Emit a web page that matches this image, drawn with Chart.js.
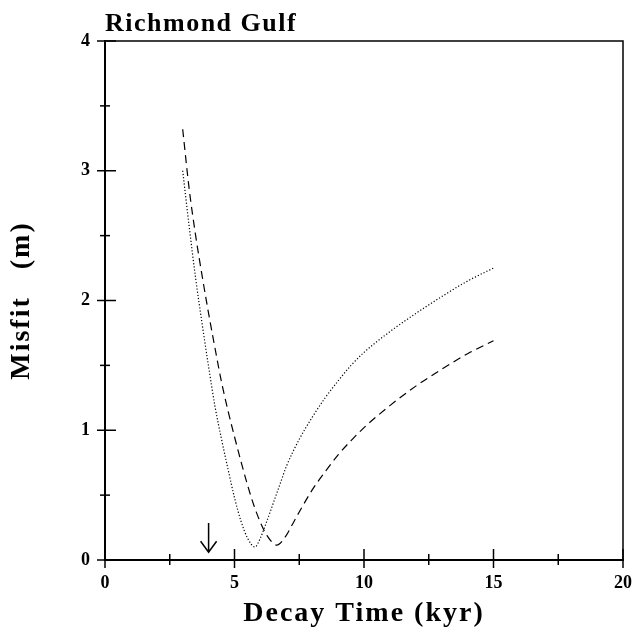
<!DOCTYPE html>
<html lang="en">
  <head>
    <meta charset="UTF-8" />
    <title>Richmond Gulf</title>
    <style>
      body { margin: 0; background: #fff; }
      canvas { display: block; }
    </style>
  </head>
  <body>
    <canvas id="misfitChart" width="632" height="639"></canvas>
    <script src="https://cdn.jsdelivr.net/npm/chart.js"></script>
    <script>
      const chartTitle = "Richmond Gulf";
      const xTitle = "Decay Time (kyr)";
      const yTitle = "Misfit   (m)";

      // dotted curve
      const dottedX = [3.0, 3.25, 3.5, 3.75, 4.0, 4.25, 4.5, 4.75, 5.0, 5.25, 5.5, 5.79, 6.0, 6.25, 6.5, 6.75, 7.0, 7.5, 8.0, 8.5, 9.0, 9.5, 10.0, 11.0, 12.0, 13.0, 14.0, 15.0];
      const dottedY = [3.0, 2.57, 2.17, 1.82, 1.49, 1.18, 0.93, 0.7, 0.48, 0.3, 0.17, 0.1, 0.17, 0.3, 0.44, 0.58, 0.72, 0.93, 1.1, 1.25, 1.38, 1.5, 1.6, 1.76, 1.9, 2.03, 2.15, 2.25];

      // dashed curve
      const dashedX = [3.0, 3.25, 3.5, 3.75, 4.0, 4.25, 4.5, 4.75, 5.0, 5.25, 5.5, 5.75, 6.0, 6.25, 6.63, 7.0, 7.25, 7.5, 8.0, 8.5, 9.0, 9.5, 10.0, 11.0, 12.0, 13.0, 14.0, 15.0];
      const dashedY = [3.32, 2.86, 2.5, 2.19, 1.9, 1.63, 1.37, 1.15, 0.95, 0.76, 0.58, 0.42, 0.29, 0.19, 0.115, 0.19, 0.28, 0.37, 0.54, 0.68, 0.81, 0.92, 1.02, 1.19, 1.34, 1.47, 1.59, 1.69];

      // arrow marking the preferred decay time
      const arrowX = 4;
      const arrowFrom = 0.285;
      const arrowTo = 0.06;

      const toPoints = (xs, ys) => xs.map((x, i) => ({ x: x, y: ys[i] }));
      const serif = "'Liberation Serif', 'Times New Roman', serif";

      // axis titles in the reference are set a little wider than Liberation Serif
      const spacedTitles = {
        id: "spacedTitles",
        afterLayout(chart) {
          [chart.scales.x, chart.scales.y].forEach((s) => {
            if (s._spaced) return;
            const orig = s.drawTitle.bind(s);
            s.drawTitle = function (area) {
              this.ctx.save();
              this.ctx.letterSpacing = "2px";
              orig(area);
              this.ctx.restore();
            };
            s._spaced = true;
          });
        },
      };

      // ticks that cross the axis line, plus the top/right frame and the arrow
      const framePlugin = {
        id: "frame",
        afterDraw(chart) {
          const ctx = chart.ctx;
          const a = chart.chartArea;
          const xs = chart.scales.x;
          const ys = chart.scales.y;
          ctx.save();
          ctx.strokeStyle = "#000";
          ctx.lineWidth = 1.5;
          ctx.beginPath();
          ctx.moveTo(a.left, a.top);
          ctx.lineTo(a.right, a.top);
          ctx.lineTo(a.right, a.bottom);
          ctx.stroke();

          ys.ticks.forEach((t) => {
            const py = ys.getPixelForValue(t.value);
            const major = Number.isInteger(t.value);
            ctx.beginPath();
            ctx.moveTo(a.left - (major ? 8 : 5), py);
            ctx.lineTo(a.left + (major ? 11 : 5), py);
            ctx.stroke();
          });
          xs.ticks.forEach((t) => {
            const px = xs.getPixelForValue(t.value);
            const major = t.value % 5 === 0;
            ctx.beginPath();
            ctx.moveTo(px, a.bottom + (major ? 8 : 5));
            ctx.lineTo(px, a.bottom - (major ? 11 : 6));
            ctx.stroke();
          });

          // arrow
          const ax = xs.getPixelForValue(arrowX);
          const y0 = ys.getPixelForValue(arrowFrom);
          const y1 = ys.getPixelForValue(arrowTo);
          ctx.beginPath();
          ctx.moveTo(ax, y0);
          ctx.lineTo(ax, y1);
          ctx.moveTo(ax - 8, y1 - 11);
          ctx.lineTo(ax, y1);
          ctx.lineTo(ax + 8, y1 - 11);
          ctx.stroke();

          // title, left aligned with the plot
          ctx.fillStyle = "#000";
          ctx.letterSpacing = "1.5px";
          ctx.font = "bold 26px " + serif;
          ctx.textBaseline = "alphabetic";
          ctx.textAlign = "left";
          ctx.fillText(chartTitle, a.left, a.top - 10);
          ctx.restore();
        },
      };

      const ctx = document.getElementById("misfitChart").getContext("2d");
      new Chart(ctx, {
        type: "scatter",
        data: {
          datasets: [
            {
              label: "dotted",
              data: toPoints(dottedX, dottedY),
              showLine: true,
              borderColor: "#000",
              borderWidth: 1.2,
              borderDash: [1.2, 2],
              pointRadius: 0,
              cubicInterpolationMode: "monotone",
            },
            {
              label: "dashed",
              data: toPoints(dashedX, dashedY),
              showLine: true,
              borderColor: "#000",
              borderWidth: 1.2,
              borderDash: [8, 5],
              pointRadius: 0,
              cubicInterpolationMode: "monotone",
            },
          ],
        },
        options: {
          responsive: false,
          animation: false,
          layout: { padding: { top: 41, right: 9, left: 0, bottom: 0 } },
          plugins: {
            legend: { display: false },
            tooltip: { enabled: false },
          },
          scales: {
            x: {
              type: "linear",
              min: 0,
              max: 20,
              border: { display: true, color: "#000", width: 2 },
              grid: { display: true, drawOnChartArea: false, drawTicks: false },
              ticks: {
                stepSize: 2.5,
                autoSkip: false,
                maxRotation: 0,
                padding: 13,
                color: "#000",
                font: { family: serif, size: 18, weight: "bold" },
                callback: (v) => (v % 5 === 0 ? String(v) : ""),
              },
              title: {
                display: true,
                text: xTitle,
                color: "#000",
                font: { family: serif, size: 28, weight: "bold" },
                padding: { top: 0, bottom: 8 },
              },
              afterFit: (s) => {
                s.height = 79;
                s.paddingLeft = 0;
                s.paddingRight = 0;
              },
            },
            y: {
              min: 0,
              max: 4,
              border: { display: true, color: "#000", width: 2 },
              grid: { display: true, drawOnChartArea: false, drawTicks: false },
              ticks: {
                stepSize: 0.5,
                autoSkip: false,
                padding: 15,
                color: "#000",
                font: { family: serif, size: 18, weight: "bold" },
                callback: (v) => (Number.isInteger(v) ? String(v) : ""),
              },
              title: {
                display: true,
                text: yTitle,
                color: "#000",
                font: { family: serif, size: 28, weight: "bold" },
                padding: { top: 5, bottom: 0 },
              },
              afterFit: (s) => { s.width = 105; },
            },
          },
        },
        plugins: [spacedTitles, framePlugin],
      });
    </script>
  </body>
</html>
